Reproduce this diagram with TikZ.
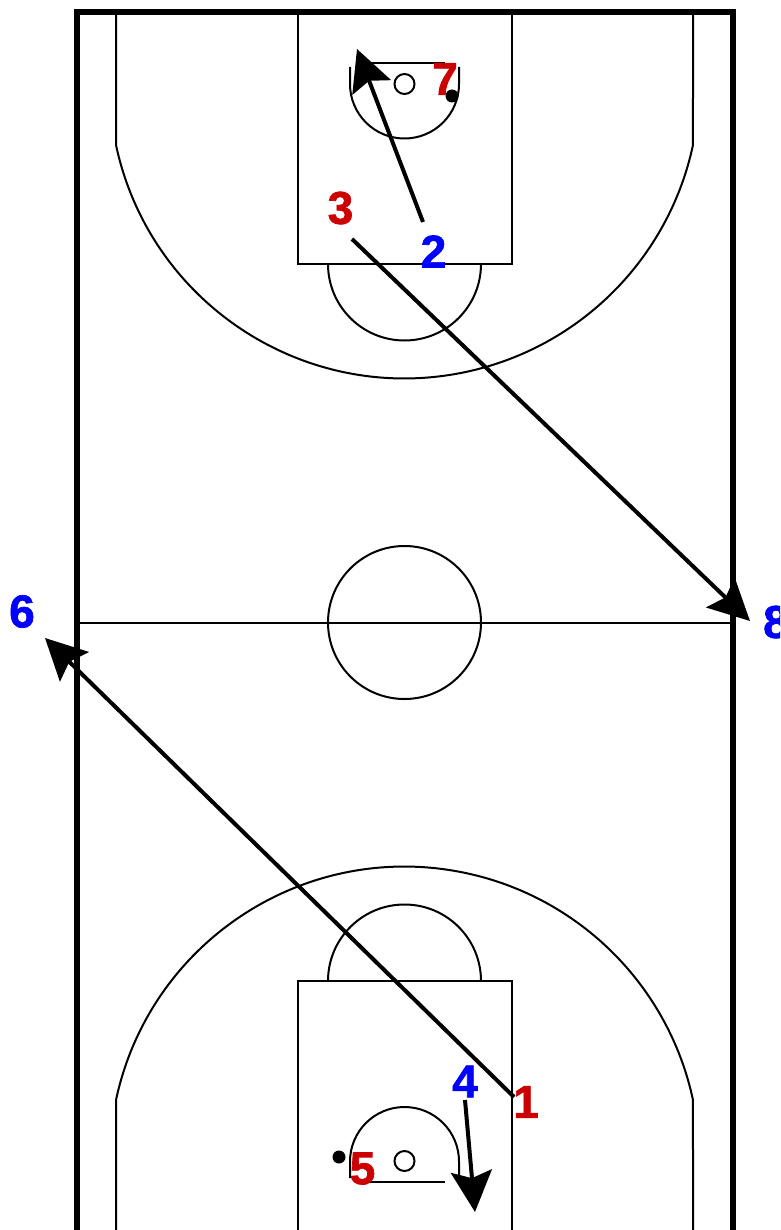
\documentclass[tikz,border=0pt]{standalone}
\usepackage{fontspec}
\setmainfont{Liberation Sans}[BoldFeatures={FakeBold=1.5}]
\usetikzlibrary{arrows.meta}
\definecolor{offred}{HTML}{CC0000}
\definecolor{defblue}{HTML}{0000FF}
\tikzset{courtline/.style={line width=2pt, black},
         sideline/.style={line width=6.2pt, black},
         passline/.style={line width=4pt, black, -{Stealth[length=41pt,width=41pt,inset=7pt]}},
         num/.style={font=\bfseries\fontsize{46}{46}\selectfont, inner sep=0pt},
         attack/.style={num, text=offred},
         defend/.style={num, text=defblue}}

\begin{document}
\begin{tikzpicture}[x=1pt, y=-1pt]
  \clip (0,0) rectangle (780,1230);

  % ---------- court ----------
  \draw[sideline] (77,1240) -- (77,12) -- (733,12) -- (733,1240);
  \draw[courtline] (77,622.5) -- (733,622.5);
  \draw[courtline] (404.5,622.5) circle (76.5pt);

  % ---------- top half ----------
  \draw[courtline] (298,12) rectangle (512,264);
  \draw[courtline] (328,264) arc[start angle=180, end angle=360, radius=76.5pt];
  \draw[courtline] (116,12) -- (116,145) arc[start angle=192.05, end angle=347.95, radius=295pt] -- (693,12);
  \draw[courtline] (350,67) -- (350,84) arc[start angle=180, end angle=360, radius=54.5pt] -- (459,67);
  \draw[courtline] (362,63) -- (445,63);
  \draw[courtline] (404.5,84) circle (10pt);
  \fill (452,96) circle (6.5pt);

  % ---------- bottom half ----------
  \draw[courtline] (298,1240) -- (298,981) -- (512,981) -- (512,1240);
  \draw[courtline] (328,981) arc[start angle=180, end angle=0, radius=76.5pt];
  \draw[courtline] (116,1240) -- (116,1100) arc[start angle=167.95, end angle=12.05, radius=295pt] -- (693,1240);
  \draw[courtline] (350,1178) -- (350,1161.5) arc[start angle=180, end angle=0, radius=54.5pt] -- (459,1178);
  \draw[courtline] (362,1182) -- (445,1182);
  \draw[courtline] (404.5,1161) circle (10pt);
  \fill (339,1157) circle (6.5pt);

  % ---------- passes ----------
  \coordinate (tailA) at (423,222);
  \coordinate (tipA) at (357,49);
  \coordinate (tailB) at (352,239);
  \coordinate (tipB) at (750,621);
  \coordinate (tailC) at (514,1097);
  \coordinate (tipC) at (45,638);
  \coordinate (tailD) at (465,1100);
  \coordinate (tipD) at (475,1212);
  \draw[passline] (tailA) -- (tipA);
  \draw[passline] (tailB) -- (tipB);
  \draw[passline] (tailC) -- (tipC);
  \draw[passline] (tailD) -- (tipD);

  % ---------- players ----------
  \node[attack] (p7) at (445,79){7};
  \node[attack] (p3) at (340.5,208){3};
  \node[defend] (p2) at (433.5,251.5){2};
  \node[defend] (p6) at (22,611.5){6};
  \node[defend] (p8) at (776,622){8};
  \node[defend] (p4) at (465,1081.5){4};
  \node[attack] (p1) at (526,1102){1};
  \node[attack] (p5) at (362.5,1168.5){5};

\end{tikzpicture}
\end{document}
